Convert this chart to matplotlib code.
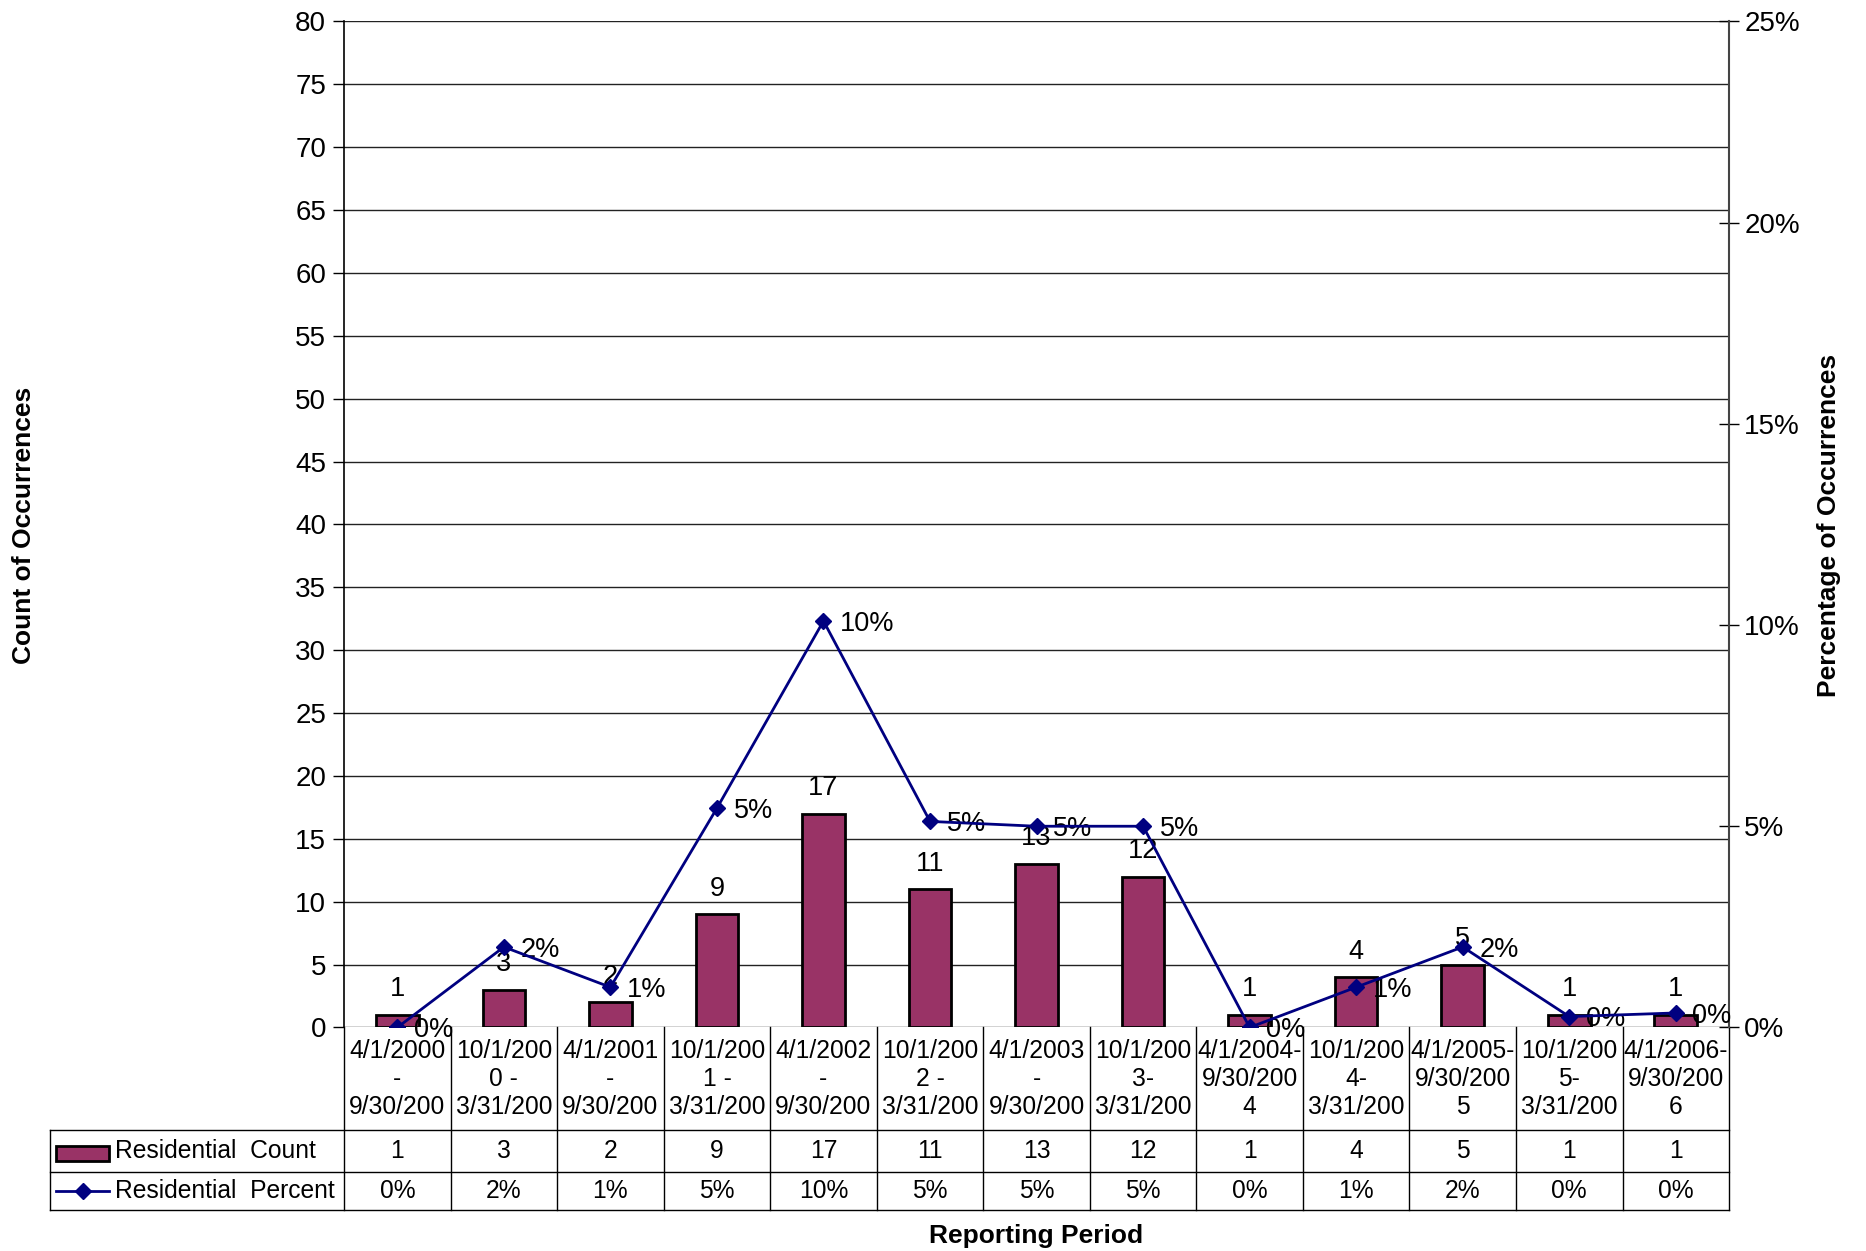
import numpy as np
import matplotlib
matplotlib.use("Agg")
import matplotlib.pyplot as plt
from matplotlib.patches import Rectangle
from matplotlib.lines import Line2D
from matplotlib.transforms import blended_transform_factory

plt.rcParams['font.family'] = ['Liberation Sans', 'DejaVu Sans']

# --- Datos por periodo de reporte ---
periodos = [
    "4/1/2000\n-\n9/30/200", "10/1/200\n0 -\n3/31/200", "4/1/2001\n-\n9/30/200",
    "10/1/200\n1 -\n3/31/200", "4/1/2002\n-\n9/30/200", "10/1/200\n2 -\n3/31/200",
    "4/1/2003\n-\n9/30/200", "10/1/200\n3-\n3/31/200", "4/1/2004-\n9/30/200\n4",
    "10/1/200\n4-\n3/31/200", "4/1/2005-\n9/30/200\n5", "10/1/200\n5-\n3/31/200",
    "4/1/2006-\n9/30/200\n6",
]
conteo = [1, 3, 2, 9, 17, 11, 13, 12, 1, 4, 5, 1, 1]
porcentaje = [0.0, 0.02, 0.01, 0.0545, 0.101, 0.0512, 0.05, 0.05, 0.0, 0.01, 0.02, 0.0027, 0.0036]
ticks_conteo = list(range(0, 81, 5))
ticks_pct = [0.0, 0.05, 0.10, 0.15, 0.20, 0.25]

COLOR_BARRA = '#993366'
COLOR_LINEA = '#000080'
FS_EJE = 20
FS_ETIQ = 19.5
FS_TABLA = 17.7

fig = plt.figure(figsize=(18.66, 12.51), dpi=100)
ax = fig.add_axes([0.1844, 0.1787, 0.7422, 0.8042])
x = np.arange(len(periodos))

# barras de conteo (eje izquierdo)
ax.bar(x, conteo, width=0.4, color=COLOR_BARRA, edgecolor='black', linewidth=2, zorder=3)
for xi, c in zip(x, conteo):
    ax.annotate(str(c), (xi, c), xytext=(0, 9), textcoords='offset points',
                ha='center', va='bottom', fontsize=FS_ETIQ, zorder=5)
ax.set_xlim(-0.5, len(periodos) - 0.5)
ax.set_ylim(0, 80)
ax.set_yticks(ticks_conteo)
ax.set_xticks([])
ax.grid(axis='y', color='#222222', linewidth=1, zorder=0)
ax.tick_params(axis='y', direction='out', length=8, width=1, labelsize=FS_EJE, pad=5)
for lado in ['top', 'bottom', 'right']:
    ax.spines[lado].set_visible(False)
ax.spines['left'].set_linewidth(1.2)

# linea de porcentaje (eje derecho)
ax2 = ax.twinx()
ax2.plot(x, porcentaje, color=COLOR_LINEA, lw=2, marker='D', ms=8, zorder=4)
for xi, p in zip(x, porcentaje):
    ax2.annotate(f'{p:.0%}', (xi, p), xytext=(12, -2), textcoords='offset points',
                 ha='left', va='center', fontsize=FS_ETIQ)
ax2.set_ylim(0, 0.25)
ax2.set_yticks(ticks_pct)
ax2.set_yticklabels([f'{t:.0%}' for t in ticks_pct])
ax2.tick_params(axis='y', direction='inout', length=14, width=1, labelsize=FS_EJE, pad=4)
for lado in ['top', 'bottom', 'left']:
    ax2.spines[lado].set_visible(False)
ax2.spines['right'].set_color('#444444')
ax2.spines['right'].set_linewidth(1.5)

# --- Tabla de datos debajo del grafico ---
tr = blended_transform_factory(ax.transData, ax.transAxes)
y_cat, y_cnt, y_pct = -0.1024, -0.1436, -0.1817
x_izq = -0.2123
x_min = -0.5

def linea(xs, ys, transform):
    ax.add_line(Line2D(xs, ys, transform=transform, color='black', lw=1, clip_on=False))

for y in [y_cat, y_cnt, y_pct]:
    linea([x_izq, 1], [y, y], ax.transAxes)
linea([x_izq, x_izq], [y_cat, y_pct], ax.transAxes)
for i in range(len(periodos) + 1):
    linea([x_min + i, x_min + i], [0, y_pct], tr)

for xi, per, c, p in zip(x, periodos, conteo, porcentaje):
    ax.text(xi, y_cat / 2, per, transform=tr, ha='center', va='center',
            fontsize=FS_TABLA, linespacing=1.2)
    ax.text(xi, (y_cat + y_cnt) / 2, str(c), transform=tr, ha='center', va='center',
            fontsize=FS_TABLA)
    ax.text(xi, (y_cnt + y_pct) / 2, f'{p:.0%}', transform=tr, ha='center', va='center',
            fontsize=FS_TABLA)

# claves de leyenda en la tabla
ax.add_patch(Rectangle((-0.208, -0.1327), 0.0383, 0.0149, transform=ax.transAxes,
                       facecolor=COLOR_BARRA, edgecolor='black', lw=2, clip_on=False))
ax.text(-0.1653, (y_cat + y_cnt) / 2, 'Residential  Count', transform=ax.transAxes,
        ha='left', va='center', fontsize=FS_TABLA)
ax.add_line(Line2D([-0.208, -0.1697], [(y_cnt + y_pct) / 2] * 2, transform=ax.transAxes,
                   color=COLOR_LINEA, lw=2, clip_on=False))
ax.add_line(Line2D([-0.1888], [(y_cnt + y_pct) / 2], transform=ax.transAxes, color=COLOR_LINEA,
                   marker='D', ms=8, clip_on=False))
ax.text(-0.1653, (y_cnt + y_pct) / 2, 'Residential  Percent', transform=ax.transAxes,
        ha='left', va='center', fontsize=FS_TABLA)

# titulos de ejes
fig.text(24 / 1866, 1 - 525 / 1251, 'Count of Occurrences', rotation=90, ha='center',
         va='center', fontsize=19, fontweight='bold')
fig.text(1829 / 1866, 1 - 525 / 1251, 'Percentage of Occurrences', rotation=90, ha='center',
         va='center', fontsize=19, fontweight='bold')
fig.text(1036 / 1866, 1 - 1236 / 1251, 'Reporting Period', ha='center', va='center',
         fontsize=19, fontweight='bold')

fig.savefig('out.png', dpi=100)
